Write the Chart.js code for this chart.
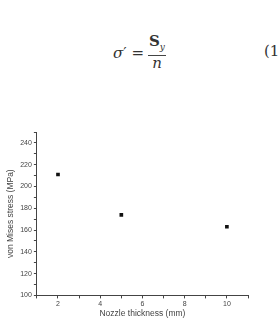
<!DOCTYPE html>
<html>
<head>
<meta charset="utf-8">
<script src="https://cdn.jsdelivr.net/npm/chart.js@4/dist/chart.umd.min.js"></script>
<style>
  html, body { margin: 0; padding: 0; background: #fff; }
  body { width: 278px; height: 326px; position: relative; overflow: hidden; }
  .eq { position: absolute; top: 34px; left: 113px; font-family: "DejaVu Serif", "Liberation Serif", serif; font-size: 15px; color: #333; display: flex; align-items: center; }
  .frac { display: inline-flex; flex-direction: column; align-items: center; margin-left: 4px; }
  .frac .num { border-bottom: 1px solid #444; padding: 0 1px; line-height: 15px; }
  .frac .den { line-height: 15px; font-style: italic; }
  .eqno { position: absolute; top: 42px; left: 264px; font-family: "DejaVu Serif", "Liberation Serif", serif; font-size: 15px; color: #333; }
  #wrap { position: absolute; left: 0; top: 120px; width: 278px; height: 206px; }
</style>
</head>
<body>
<div class="eq"><i>σ</i>′ = <span class="frac"><span class="num"><b>S</b><sub style="font-size:9px"><i>y</i></sub></span><span class="den">n</span></span></div>
<div class="eqno">(1</div>
<div id="wrap"><canvas id="c" width="278" height="206"></canvas></div>
<script>
// nozzle thickness (mm)
const thickness = [2, 5, 10];
// von Mises stress (MPa)
const stress = [211, 174, 163];

const xTitle = 'Nozzle thickness (mm)';
const yTitle = 'von Mises stress (MPa)';

const axisColor = '#444';
const textColor = '#444';

new Chart(document.getElementById('c'), {
  type: 'scatter',
  data: {
    datasets: [{
      data: thickness.map((x, i) => ({ x, y: stress[i] })),
      pointStyle: 'rect',
      pointRadius: 2.6,
      backgroundColor: '#111',
      borderColor: '#111',
      borderWidth: 0,
    }],
  },
  options: {
    responsive: false,
    animation: false,
    layout: { padding: { top: 12, right: 30, left: 6, bottom: 7 } },
    plugins: { legend: { display: false }, tooltip: { enabled: false } },
    scales: {
      x: {
        min: 1, max: 11,
        border: { display: true, color: axisColor, width: 1 },
        grid: { drawOnChartArea: false, drawTicks: true, tickLength: 3, color: axisColor },
        ticks: {
          stepSize: 1, autoSkip: false, maxRotation: 0, padding: 1,
          color: textColor, font: { family: 'Arial, "Liberation Sans"', size: 7 },
          callback: v => (v % 2 === 0 ? v : ''),
        },
        title: { display: true, text: xTitle, color: textColor, padding: { top: 0, bottom: 0 },
          font: { family: 'Arial, "Liberation Sans"', size: 8.5 } },
      },
      y: {
        min: 100, max: 250,
        border: { display: true, color: axisColor, width: 1 },
        grid: { drawOnChartArea: false, drawTicks: true, tickLength: 3, color: axisColor },
        ticks: {
          stepSize: 10, autoSkip: false, padding: 2,
          color: textColor, font: { family: 'Arial, "Liberation Sans"', size: 7 },
          callback: v => (v % 20 === 0 ? v : ''),
        },
        title: { display: true, text: yTitle, color: textColor, padding: { top: 0, bottom: 2 },
          font: { family: 'Arial, "Liberation Sans"', size: 8.5 } },
      },
    },
  },
});
</script>
</body>
</html>
